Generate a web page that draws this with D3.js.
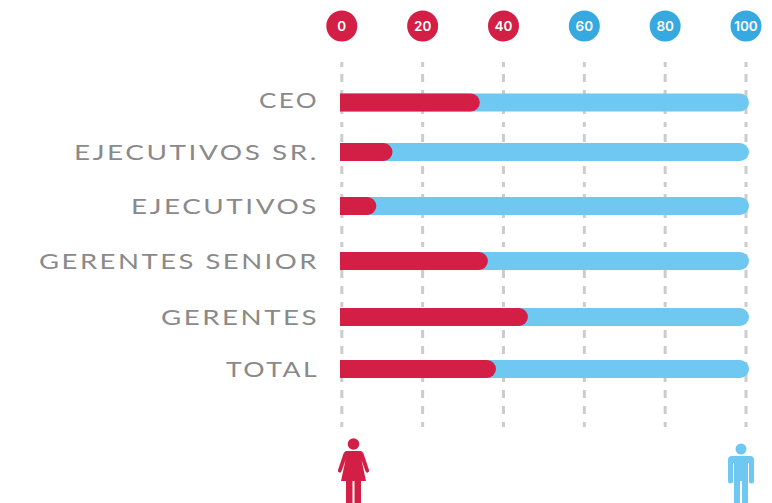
<!DOCTYPE html>
<html>
<head>
<meta charset="utf-8">
<style>
  html, body { margin: 0; padding: 0; background: #fff; }
  svg { display: block; }
  .label { font-family: Lato, sans-serif; font-size: 22px; fill: #8a8a8a; letter-spacing: 2px; }
  .tick-label { font-family: Inter, sans-serif; font-weight: 600; font-size: 13.5px; fill: #fff; }
</style>
<script src="https://cdn.jsdelivr.net/npm/d3@7"></script>
</head>
<body>
<div id="chart"></div>
<script>
const categories = ["CEO", "EJECUTIVOS SR.", "EJECUTIVOS", "GERENTES SENIOR", "GERENTES", "TOTAL"]
const womenShare = [33.4, 11.8, 7.8, 35.4, 45.3, 37.4]
const menShare = [100, 100, 100, 100, 100, 100]
const tickValues = [0, 20, 40, 60, 80, 100]

const RED = "#d31f45"
const BLUE = "#6fc8f2"
const BLUE_DARK = "#36a9e1"

const width = 772
const height = 503

const svg = d3.select("#chart").append("svg")
  .attr("width", width)
  .attr("height", height)

const x = d3.scaleLinear().domain([0, 100]).range([341.8, 746])

// rows in the original are not evenly spaced
const y = d3.scaleOrdinal().domain(categories).range([102.5, 152, 206, 261, 317, 369])
const labelY = d3.scaleOrdinal().domain(categories).range([100, 152, 206, 261, 317, 369])
// the original lettering is wider than any installed font, so fit each label to its width
const labelLength = d3.scaleOrdinal().domain(categories).range([60, 245, 188, 280, 158, 93])

// Grid
svg.append("g")
  .attr("transform", "translate(0,62)")
  .call(d3.axisBottom(x).tickValues(tickValues).tickSize(368).tickFormat("").offset(0))
  .call(g => g.select(".domain").remove())
  .selectAll("line")
  .attr("stroke", "#cccccc")
  .attr("stroke-width", 3)
  .attr("stroke-dasharray", "5 7 8 8 8 8 8 8")

// Top axis with round badges
const topAxis = svg.append("g")
  .attr("transform", "translate(0,26)")
  .call(d3.axisTop(x).tickValues(tickValues).tickSize(0).tickPadding(0).offset(0))

topAxis.select(".domain").remove()
topAxis.attr("font-family", null).attr("font-size", null)

topAxis.selectAll(".tick").insert("circle", "text")
  .attr("r", 15.5)
  .attr("fill", d => d < 50 ? RED : BLUE_DARK)

topAxis.selectAll(".tick text")
  .attr("class", "tick-label")
  .attr("y", 0)
  .attr("dy", "0.36em")
  .attr("text-anchor", "middle")

// bar with a square left end and a round right end
function barPath(v, cy) {
  const h = 9
  const x0 = x(0) - 1.8
  const x1 = x(v) + 3
  const p = d3.path()
  p.moveTo(x0, cy - h)
  p.lineTo(x1 - h, cy - h)
  p.arc(x1 - h, cy, h, -Math.PI / 2, Math.PI / 2)
  p.lineTo(x0, cy + h)
  p.closePath()
  return p.toString()
}

svg.append("g").selectAll("path")
  .data(categories)
  .enter().append("path")
  .attr("d", (d, i) => barPath(menShare[i], y(d)))
  .attr("fill", BLUE)

svg.append("g").selectAll("path")
  .data(categories)
  .enter().append("path")
  .attr("d", (d, i) => barPath(womenShare[i], y(d)))
  .attr("fill", RED)

// Category labels
svg.append("g").selectAll("text")
  .data(categories)
  .enter().append("text")
  .attr("class", "label")
  .attr("text-anchor", "end")
  .attr("dy", "0.36em")
  .attr("x", 319)
  .attr("y", d => labelY(d))
  .attr("textLength", d => labelLength(d))
  .attr("lengthAdjust", "spacingAndGlyphs")
  .text(d => d)

// Woman icon
const woman = svg.append("g").attr("fill", RED)
  .attr("transform", `translate(${x(0) + 11.7},0)`)
woman.append("circle").attr("cy", 444).attr("r", 5.8)
woman.append("path").attr("d",
  "M-7,451 L7,451 Q9,451 10,453.5 L15.5,470 Q16,472 14.2,472.6 Q12.6,473 12,471.2 L8,460 L12.5,481 L7.5,481 L7.5,503 L1,503 L1,481 L-1,481 L-1,503 L-7.5,503 L-7.5,481 L-12.5,481 L-8,460 L-12,471.2 Q-12.6,473 -14.2,472.6 Q-16,472 -15.5,470 L-10,453.5 Q-9,451 -7,451 Z")

// Man icon
const man = svg.append("g").attr("fill", BLUE)
  .attr("transform", `translate(${x(100) - 5},0)`)
man.append("circle").attr("cy", 449).attr("r", 5.5)
man.append("path").attr("d",
  "M-9,456 L9,456 Q13,456 13,460 L13,481 Q13,483.5 10.5,483.5 Q8,483.5 8,481 L8,463 L7,463 L7,503 L1,503 L1,481 L-1,481 L-1,503 L-7,503 L-7,463 L-8,463 L-8,481 Q-8,483.5 -10.5,483.5 Q-13,483.5 -13,481 L-13,460 Q-13,456 -9,456 Z")
</script>
</body>
</html>
